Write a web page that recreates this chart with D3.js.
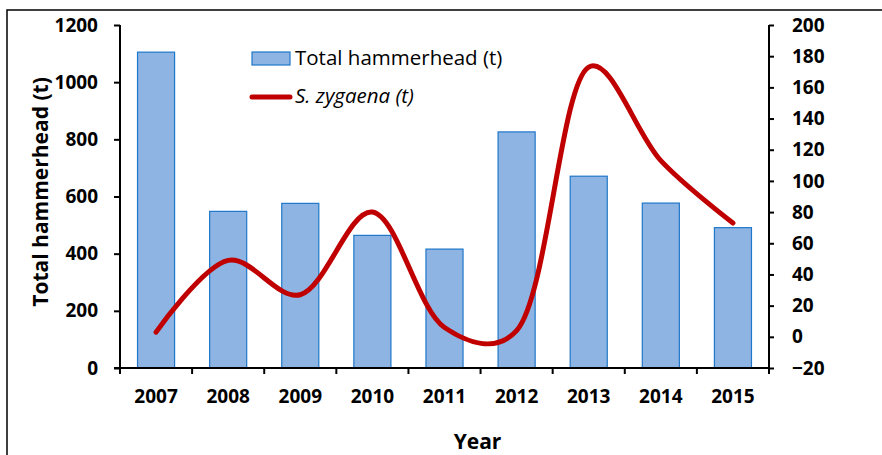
<!DOCTYPE html>
<html><head><meta charset="utf-8">
<script src="https://cdn.jsdelivr.net/npm/d3@7"></script>
<style>body{margin:0;background:#fff}svg{display:block}text{font-family:"Open Sans",sans-serif}</style>
</head><body>
<svg id="c" width="882" height="455"></svg>
<script>
const years = ["2007","2008","2009","2010","2011","2012","2013","2014","2015"];
const totalHammerhead = [1105, 548, 576, 464, 416, 826, 671, 577, 491];
const sZygaena = [3, 49, 27, 80, 6, 4, 173, 113, 73];
const leftTicks = [0,200,400,600,800,1000,1200];
const rightTicks = [-20,0,20,40,60,80,100,120,140,160,180,200];

const svg = d3.select("#c");
const L = 120, R = 769, T = 25, B = 368;

// outer frame
svg.append("rect").attr("x",7).attr("y",10).attr("width",950).attr("height",600)
  .attr("fill","none").attr("stroke","#000").attr("stroke-width",1.5);

const x = d3.scaleBand().domain(years).range([L,R]).paddingInner(0.486).paddingOuter(0.243);
const yL = d3.scaleLinear().domain([0,1200]).range([B,T]);
const yR = d3.scaleLinear().domain([-20,200]).range([B,T]);

// bars
svg.append("g").selectAll("rect").data(years).join("rect")
  .attr("x",d=>x(d)).attr("width",x.bandwidth())
  .attr("y",(d,i)=>yL(totalHammerhead[i])).attr("height",(d,i)=>B-yL(totalHammerhead[i]))
  .attr("fill","#8EB4E3").attr("stroke","#1F77C9").attr("stroke-width",1.2);

// line
const line = d3.line().x(d=>x(d[0])+x.bandwidth()/2).y(d=>yR(d[1])).curve(d3.curveCatmullRom.alpha(0.3));
svg.append("path").datum(years.map((d,i)=>[d,sZygaena[i]])).attr("d",line)
  .attr("fill","none").attr("stroke","#C00000").attr("stroke-width",5).attr("stroke-linecap","round");

// left axis
const gl = svg.append("g").attr("transform",`translate(${L},0)`)
  .call(d3.axisLeft(yL).tickValues(leftTicks).tickSize(6).tickPadding(16).tickFormat(d3.format("d")));
// right axis
const gr = svg.append("g").attr("transform",`translate(${R},0)`)
  .call(d3.axisRight(yR).tickValues(rightTicks).tickSize(5).tickPadding(18).tickFormat(d3.format("d")));
// x axis
const gx = svg.append("g").attr("transform",`translate(0,${B})`)
  .call(d3.axisBottom(x).tickSize(0).tickPadding(22));
[gl,gr,gx].forEach(g=>{
  g.select(".domain").attr("stroke","#000").attr("stroke-width",2);
  g.selectAll(".tick line").attr("stroke","#000").attr("stroke-width",2);
  g.selectAll(".tick text").attr("font-family","Open Sans").attr("font-weight","bold")
    .attr("font-size",19).attr("fill","#000");
});
gl.select(".domain").attr("d",`M0,${T}V${B}`);
gr.select(".domain").attr("d",`M0,${T}V${B}`);
gx.select(".domain").attr("d",`M${L-6},0H${R}`);
// x boundary ticks
const bounds = years.map(d=>x(d)-x.step()*x.paddingInner()/2).concat([R]);
svg.append("g").selectAll("line").data(bounds).join("line")
  .attr("x1",d=>d).attr("x2",d=>d).attr("y1",B).attr("y2",B+6)
  .attr("stroke","#000").attr("stroke-width",2);

// axis titles
svg.append("text").attr("transform","translate(48,192) rotate(-90)").attr("text-anchor","middle")
  .attr("font-weight","bold").attr("font-size",21).text("Total hammerhead (t)");
svg.append("text").attr("x",(L+R)/2+33).attr("y",449).attr("text-anchor","middle")
  .attr("font-weight","bold").attr("font-size",21).text("Year");

// legend
svg.append("rect").attr("x",252).attr("y",52).attr("width",38).attr("height",13)
  .attr("fill","#8EB4E3").attr("stroke","#1F77C9").attr("stroke-width",1.2);
svg.append("text").attr("x",295).attr("y",65).attr("font-size",20.5).text("Total hammerhead (t)");
svg.append("line").attr("x1",252).attr("x2",290).attr("y1",97).attr("y2",97)
  .attr("stroke","#C00000").attr("stroke-width",5).attr("stroke-linecap","round");
svg.append("text").attr("x",295).attr("y",103).attr("font-size",20.5).attr("font-style","italic").text("S. zygaena (t)");
</script>
</body></html>
